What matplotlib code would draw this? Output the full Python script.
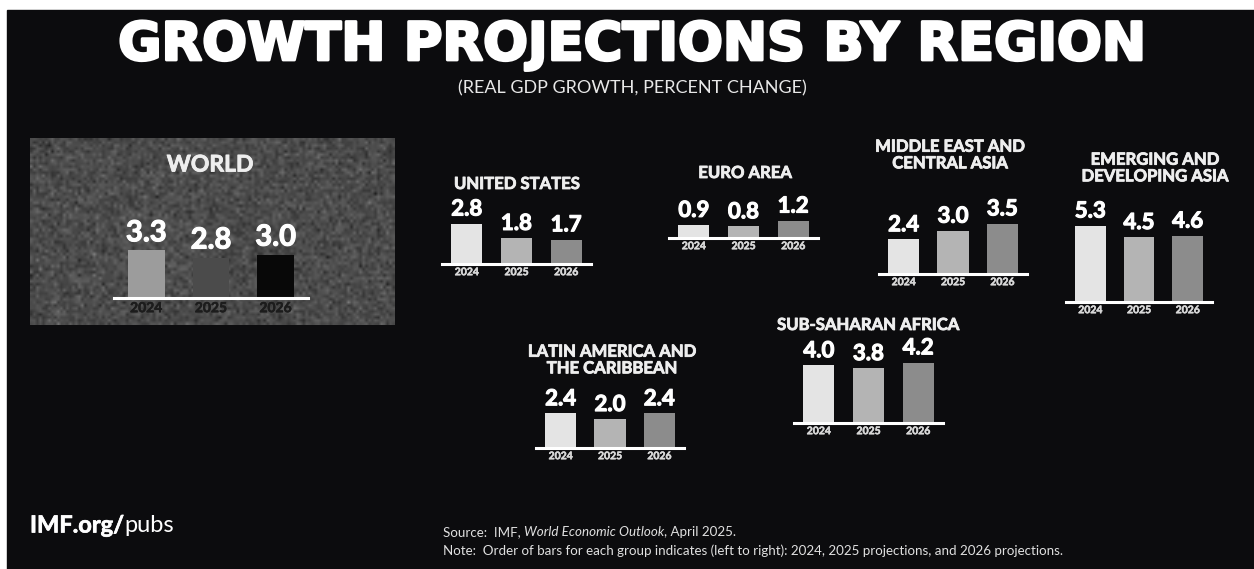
import numpy as np
import matplotlib
matplotlib.use("Agg")
import matplotlib.pyplot as plt
import matplotlib.patheffects as pe
from matplotlib.patches import Rectangle

W, H = 1254, 569
PX = 14.4  # pixels per percentage point

years = ["2024", "2025", "2026"]

world = [3.3, 2.8, 3.0]
united_states = [2.8, 1.8, 1.7]
euro_area = [0.9, 0.8, 1.2]
middle_east_central_asia = [2.4, 3.0, 3.5]
emerging_developing_asia = [5.3, 4.5, 4.6]
latin_america_caribbean = [2.4, 2.0, 2.4]
sub_saharan_africa = [4.0, 3.8, 4.2]

BG = "#0c0c0e"
bar_colors = ["#e4e4e4", "#b4b4b4", "#8c8c8c"]
world_colors = ["#9c9c9c", "#4b4b4b", "#080808"]

plt.rcParams["font.family"] = ["Lato", "DejaVu Sans"]

fig = plt.figure(figsize=(W / 100, H / 100), dpi=100)
fig.patch.set_facecolor("white")

# full-figure canvas in pixel units
bg = fig.add_axes([0, 0, 1, 1])
bg.set_xlim(0, W)
bg.set_ylim(H, 0)
bg.axis("off")
bg.add_patch(Rectangle((7, 10), W - 7, H - 10, color=BG, zorder=0))

# grainy grey panel behind the world bars
grain = np.random.default_rng(7).normal(0.30, 0.05, (62, 122))
bg.imshow(grain, cmap="gray", vmin=0, vmax=1, extent=(30, 395, 325, 138),
          interpolation="bilinear", zorder=1, aspect="auto")


def heavy(lw, col="white"):
    return [pe.withStroke(linewidth=lw, foreground=col)]


bg.text(632, 45, "GROWTH PROJECTIONS BY REGION", color="white", fontsize=38,
        fontweight="bold", family="DejaVu Sans", ha="center", va="center",
        path_effects=heavy(2))
bg.text(632, 88, "(REAL GDP GROWTH, PERCENT CHANGE)", color="#e8e8e8",
        fontsize=13, ha="center", va="center")


def group(values, left, base, width, title, tx, ty, colors=bar_colors,
          bw=0.63, vsize=16, tsize=12, ycol="#d8d8d8", ysize=7.5):
    ax = fig.add_axes([left / W, 1 - base / H, width / W, 7 * PX / H])
    ax.set_xlim(-0.5, 2.5)
    ax.set_ylim(0, 7)
    ax.axis("off")
    x = np.arange(len(values))
    ax.bar(x, values, width=bw, color=colors, zorder=2)
    ax.axhline(0, color="white", lw=2.2, zorder=3, clip_on=False)
    for i, v in enumerate(values):
        ax.annotate(f"{v:.1f}", (i, v), xytext=(0, 3), textcoords="offset points",
                    ha="center", va="bottom", color="white", fontsize=vsize,
                    fontweight="bold", path_effects=heavy(0.8))
        ax.annotate(years[i], (i, 0), xytext=(0, -3), textcoords="offset points",
                    ha="center", va="top", color=ycol, fontsize=ysize,
                    fontweight="bold", path_effects=heavy(0.4, ycol))
    bg.text(tx, ty, title, color="#eeeeee", fontsize=tsize, fontweight="bold",
            ha="center", va="center", linespacing=1.05,
            path_effects=heavy(0.6, "#eeeeee"))
    return ax


group(world, 114, 298, 194, "WORLD", 210, 165, colors=world_colors, bw=0.57,
      vsize=21, tsize=16.5, ycol="#1c1c1c", ysize=10)
group(united_states, 442, 264, 149, "UNITED STATES", 517, 184)
group(euro_area, 669, 238, 149, "EURO AREA", 745, 173)
group(middle_east_central_asia, 879, 274, 148,
      "MIDDLE EAST AND\nCENTRAL ASIA", 950, 155)
group(emerging_developing_asia, 1066, 302, 146,
      "EMERGING AND\nDEVELOPING ASIA", 1155, 168)
group(latin_america_caribbean, 536, 448, 148,
      "LATIN AMERICA AND\nTHE CARIBBEAN", 612, 360)
group(sub_saharan_africa, 794, 423, 149, "SUB-SAHARAN AFRICA", 868, 325)

# footer
t = bg.text(30, 525, "IMF.org/", color="white", fontsize=17, fontweight="bold",
            ha="left", va="center", path_effects=heavy(0.5))
bg.annotate("pubs", xy=(1, 0.5), xycoords=t, ha="left", va="center",
            color="white", fontsize=17)

s1 = bg.text(443, 532, "Source:  IMF, ", color="#e0e0e0", fontsize=9.6,
             ha="left", va="center")
s2 = bg.annotate("World Economic Outlook", xy=(1, 0.5), xycoords=s1, ha="left",
                 va="center", color="#e0e0e0", fontsize=9.6, style="italic")
bg.annotate(", April 2025.", xy=(1, 0.5), xycoords=s2, ha="left", va="center",
            color="#e0e0e0", fontsize=9.6)
bg.text(443, 551, "Note:  Order of bars for each group indicates (left to right): "
        "2024, 2025 projections, and 2026 projections.", color="#e0e0e0",
        fontsize=9.6, ha="left", va="center")

fig.savefig("out.png", dpi=100, facecolor=fig.get_facecolor())
